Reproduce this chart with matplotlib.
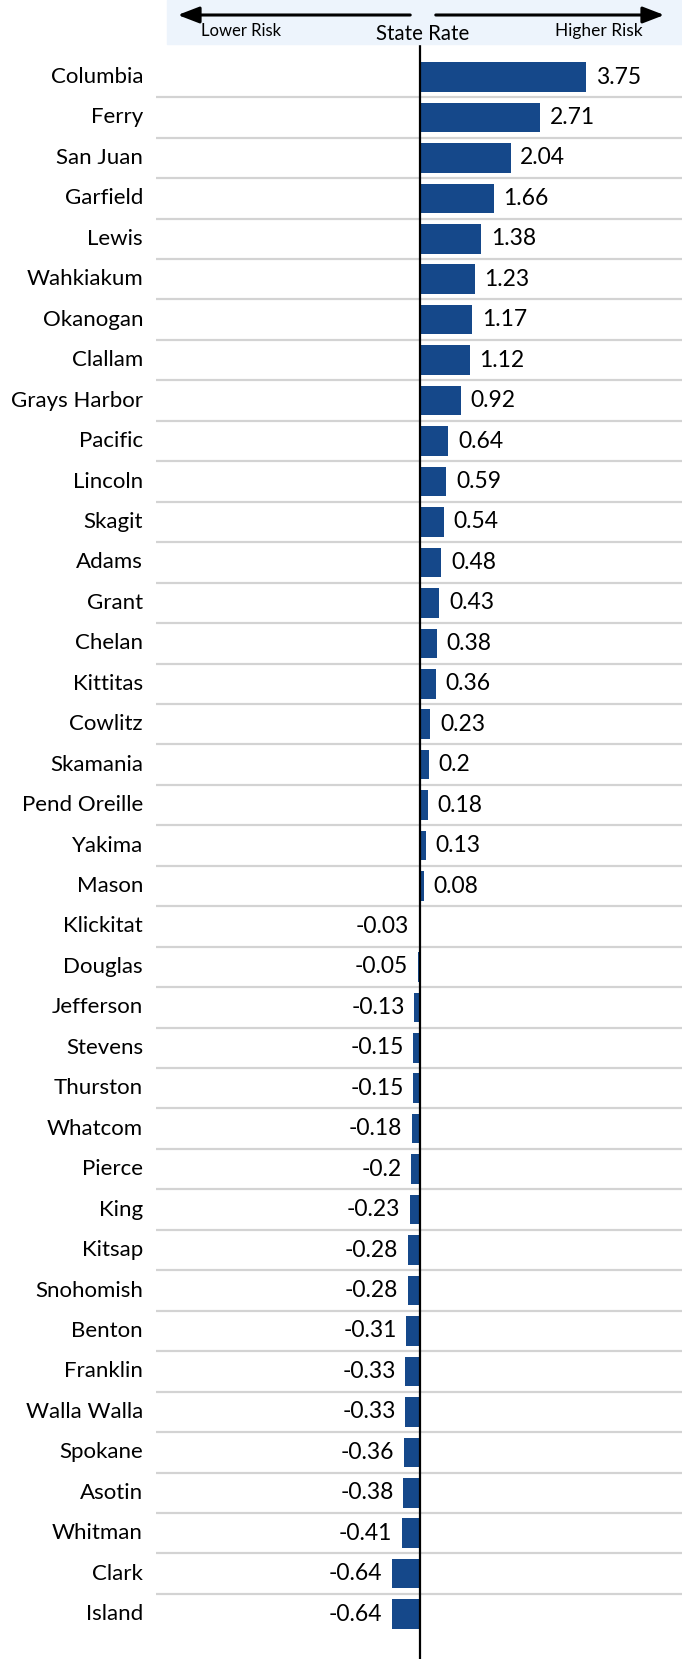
import matplotlib
matplotlib.use("Agg")
from matplotlib import pyplot
from matplotlib.patches import Rectangle

counties = ["Columbia", "Ferry", "San Juan", "Garfield", "Lewis", "Wahkiakum",
            "Okanogan", "Clallam", "Grays Harbor", "Pacific", "Lincoln", "Skagit",
            "Adams", "Grant", "Chelan", "Kittitas", "Cowlitz", "Skamania",
            "Pend Oreille", "Yakima", "Mason", "Klickitat", "Douglas", "Jefferson",
            "Stevens", "Thurston", "Whatcom", "Pierce", "King", "Kitsap",
            "Snohomish", "Benton", "Franklin", "Walla Walla", "Spokane", "Asotin",
            "Whitman", "Clark", "Island"]
values = [3.75, 2.71, 2.04, 1.66, 1.38, 1.23, 1.17, 1.12, 0.92, 0.64, 0.59, 0.54,
          0.48, 0.43, 0.38, 0.36, 0.23, 0.2, 0.18, 0.13, 0.08, -0.03, -0.05, -0.13,
          -0.15, -0.15, -0.18, -0.2, -0.23, -0.28, -0.28, -0.31, -0.33, -0.33,
          -0.36, -0.38, -0.41, -0.64, -0.64]

BAR_COLOR = "#15488a"
W, H = 682, 1659
pyplot.rcParams["font.family"] = ["Lato", "DejaVu Sans"]

figure = pyplot.figure(figsize=(W / 100, H / 100), dpi=100)

# Axes spans from x=156px to the right edge, below the header band
ax_left, ax_top = 156, 44
axes = figure.add_axes([ax_left / W, 0, 1 - ax_left / W, 1 - ax_top / H])
axes.set_xlim(-5.96, 5.91)
axes.set_ylim(39.11, -0.816)
axes.axis("off")

ypos = list(range(len(counties)))
axes.barh(ypos, values, height=0.73, color=BAR_COLOR, zorder=2)

# row separators
for i in range(len(counties) - 1):
    axes.axhline(i + 0.5, color="#d3d3d3", linewidth=1.6, zorder=1)

axes.axvline(0, color="black", linewidth=1.6, zorder=3)

for y, name, v in zip(ypos, counties, values):
    axes.annotate(name, xy=(0, y), xycoords=("figure fraction", "data"),
                  xytext=(143, 0), textcoords="offset pixels",
                  ha="right", va="center", fontsize=16)
    if v >= 0:
        axes.annotate("{:g}".format(v), xy=(v, y), xytext=(7, 0), textcoords="offset points",
                      ha="left", va="center", fontsize=16.5)
    else:
        axes.annotate("{:g}".format(v), xy=(v, y), xytext=(-7, 0), textcoords="offset points",
                      ha="right", va="center", fontsize=16.5)

# Header band with arrows
figure.patches.append(Rectangle((167 / W, 1 - 44 / H), 1 - 167 / W, 44 / H,
                                transform=figure.transFigure, color="#edf4fc", zorder=0))
arrow = dict(arrowstyle="-|>,head_length=1.3,head_width=0.5", color="black", linewidth=2.2)
figure.add_artist(pyplot.Annotation("", xy=(175 / W, 1 - 15 / H), xytext=(413 / W, 1 - 15 / H),
                                    xycoords="figure fraction", textcoords="figure fraction",
                                    arrowprops=arrow))
figure.add_artist(pyplot.Annotation("", xy=(667 / W, 1 - 15 / H), xytext=(433 / W, 1 - 15 / H),
                                    xycoords="figure fraction", textcoords="figure fraction",
                                    arrowprops=arrow))
figure.text(241 / W, 1 - 31 / H, "Lower Risk", ha="center", va="center", fontsize=12)
figure.text(423 / W, 1 - 34 / H, "State Rate", ha="center", va="center", fontsize=14.8)
figure.text(599 / W, 1 - 31 / H, "Higher Risk", ha="center", va="center", fontsize=12.5)

pyplot.savefig("out.png", dpi=100)
